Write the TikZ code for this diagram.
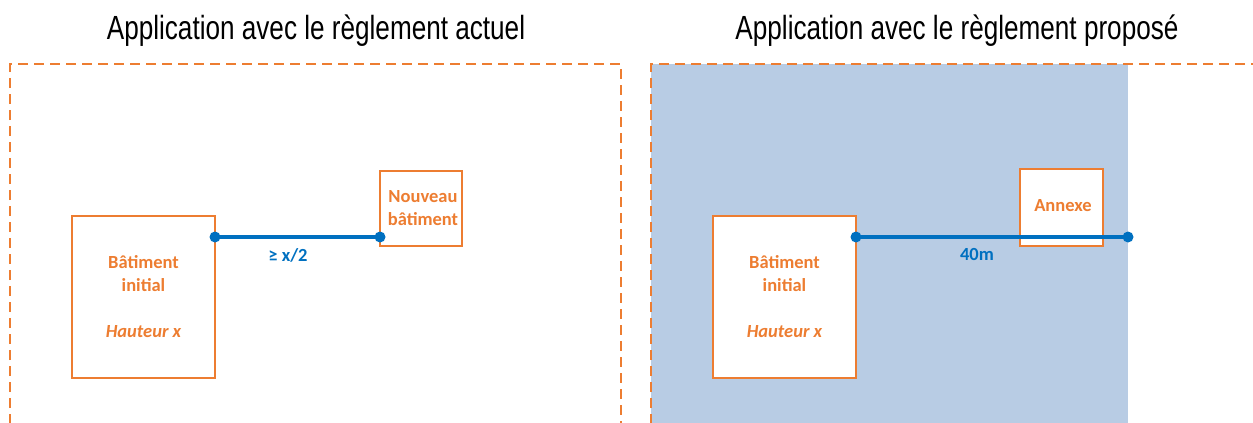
\documentclass[tikz,border=0pt]{standalone}
\usepackage{fontspec}
\setmainfont{Liberation Sans}
\newfontfamily\calib{Carlito}
\newfontfamily\ttlfont[FakeStretch=0.78]{Liberation Sans}
\definecolor{orng}{HTML}{ED7D31}
\definecolor{lblue}{HTML}{0070C0}
\definecolor{fillb}{HTML}{B8CCE4}
\begin{document}
\begin{tikzpicture}[x=1pt,y=-1pt,
  bldg/.style={draw=orng,line width=1.8pt,fill=white,inner sep=0pt},
  btxt/.style={text=orng,font=\calib\bfseries\fontsize{18.5}{23}\selectfont,align=center},
  dlabel/.style={text=lblue,font=\calib\bfseries\fontsize{18.5}{23}\selectfont},
  meas/.style={draw=lblue,line width=3.6pt},
  dotc/.style={circle,fill=lblue,minimum size=11pt,inner sep=0pt},
  zone/.style={draw=orng,line width=1.6pt,dash pattern=on 10pt off 6pt},
  ttl/.style={font=\ttlfont\fontsize{33.5}{38}\selectfont,text=black,anchor=base,inner sep=0pt}]
\useasboundingbox (0,0) rectangle (1253,423);
\begin{scope}
\clip (0,0) rectangle (1253,423);
% right panel fill
\fill[fillb] (651,64) rectangle (1128,430);
% dashed zones
\draw[zone] (10,440) -- (10,64) -- (621,64) -- (621,440);
\draw[zone] (651,440) -- (651,64) -- (1265,64);
\end{scope}
% titles
\node[ttl] (t1) at (316,39) {Application avec le règlement actuel};
\node[ttl] (t2) at (957,39) {Application avec le règlement proposé};
% left panel
\node[bldg,minimum width=143pt,minimum height=162pt] (b1) at (143.5,297) {};
\node[btxt] (b1t) at (143.5,274) {Bâtiment\\initial};
\node[btxt,font=\calib\bfseries\itshape\fontsize{18.5}{23}\selectfont] (b1h) at (143.5,332) {Hauteur x};
\node[bldg,minimum width=82pt,minimum height=75pt] (n1) at (421,208.5) {};
\node[btxt] (n1t) at (423,208.5) {Nouveau\\bâtiment};
\coordinate (p1) at (215,237);
\coordinate (p2) at (380,237);
\draw[meas] (p1) -- (p2);
\node[dotc] (d1) at (p1) {};
\node[dotc] (d2) at (p2) {};
\node[dlabel] (l1) at (288,255) {≥ x/2};
% right panel
\node[bldg,minimum width=143pt,minimum height=162pt] (b2) at (784.5,297) {};
\node[btxt] (b2t) at (784.5,274) {Bâtiment\\initial};
\node[btxt,font=\calib\bfseries\itshape\fontsize{18.5}{23}\selectfont] (b2h) at (784.5,332) {Hauteur x};
\node[bldg,minimum width=83pt,minimum height=77pt] (a1) at (1061.5,207.5) {};
\node[btxt] (a1t) at (1063,206) {Annexe};
\coordinate (q1) at (856,237);
\coordinate (q2) at (1128,237);
\draw[meas] (q1) -- (q2);
\node[dotc] (e1) at (q1) {};
\node[dotc] (e2) at (q2) {};
\node[dlabel] (l2) at (977,254) {40m};
\end{tikzpicture}
\end{document}
